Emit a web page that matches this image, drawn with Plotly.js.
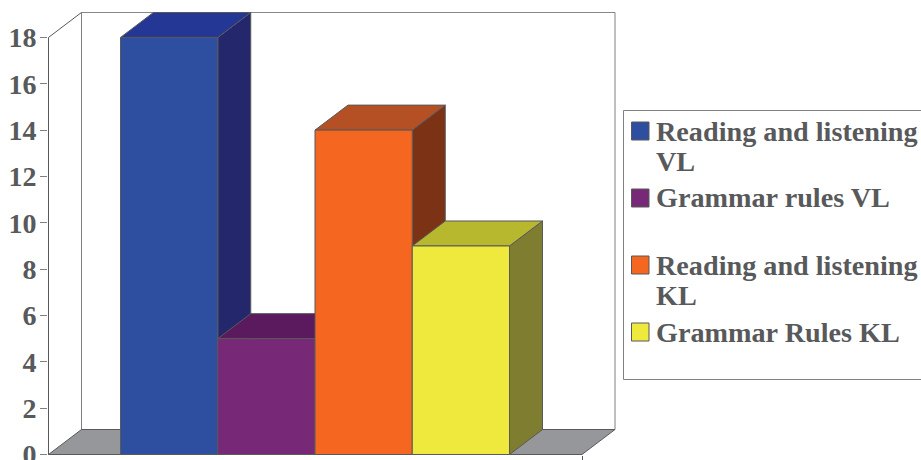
<!DOCTYPE html>
<html>
<head>
<meta charset="utf-8">
<script src="https://cdn.plot.ly/plotly-3.0.1.min.js"></script>
<style>html,body{margin:0;padding:0;background:#fff;overflow:hidden}</style>
</head>
<body>
<div id="chart" style="width:921px;height:460px"></div>
<script>
// Series, front to back in drawing order
const seriesNames = ["Reading and listening VL", "Grammar rules VL", "Reading and listening KL", "Grammar Rules KL"];
const seriesValues = [18, 5, 14, 9];
const frontColors = ["#2e4f9f", "#772877", "#f56620", "#efe93d"];
const topColors = ["#253795", "#5b1a5d", "#b55024", "#b8b82f"];
const sideColors = ["#25276d", "#3c143e", "#7c3215", "#7e7d30"];
const legendLines = [["Reading and listening", "VL"], ["Grammar rules VL"], ["Reading and listening", "KL"], ["Grammar Rules KL"]];
const yTicks = [0, 2, 4, 6, 8, 10, 12, 14, 16, 18];

// Box geometry in axis units: one x unit is one bar width
const W = 921, H = 460;
const plot = {l: 48, t: 12, w: 568, h: 443};
const xUnit = 97.25, yUnit = 23.17;
const originX = 48.5, originY = 454.5;
const depthX = 33 / xUnit, depthY = 25 / yUnit;
const firstBar = (120.5 - originX) / xUnit;
const floorWidth = (582 - originX) / xUnit;
const xRange = [(plot.l - originX) / xUnit, (plot.l + plot.w - originX) / xUnit];
const yRange = [(originY - plot.t - plot.h) / yUnit, (originY - plot.t) / yUnit];
const yTop = yTicks[yTicks.length - 1];

const edge = "#58595b", frame = "#7f8083", floorColor = "#96979b", textColor = "#58595b";

function poly(xs, ys, fill, lineColor) {
  return {
    type: "scatter", mode: "lines", x: xs, y: ys, fill: fill ? "toself" : "none",
    fillcolor: fill || undefined, line: {color: lineColor, width: 1},
    hoverinfo: "skip", showlegend: false, cliponaxis: false
  };
}

const traces = [
  // back wall and floor of the box
  poly([depthX, floorWidth + depthX, floorWidth + depthX, depthX, depthX],
       [depthY, depthY, yTop + depthY, yTop + depthY, depthY], "#ffffff", frame),
  poly([0, depthX, floorWidth + depthX, floorWidth, 0], [0, depthY, depthY, 0, 0], floorColor, edge),
  // left side of the box and the value axis
  poly([0, 0, depthX], [0, yTop, yTop + depthY], null, edge),
  poly([0, floorWidth], [0, 0], null, edge)
];

// Right faces, then top faces, so each top overlaps the neighbour on its left
seriesValues.forEach((v, i) => {
  const r = firstBar + i + 1;
  traces.push(poly([r, r + depthX, r + depthX, r, r], [0, depthY, v + depthY, v, 0], sideColors[i], edge));
});
seriesValues.forEach((v, i) => {
  const l = firstBar + i, r = l + 1;
  traces.push(poly([l, l + depthX, r + depthX, r, l], [v, v + depthY, v + depthY, v, v], topColors[i], edge));
});

// Front faces sit on an overlaid subplot so they paint over the depth faces
seriesValues.forEach((v, i) => {
  traces.push({
    type: "bar", name: seriesNames[i], x: [firstBar + i + 0.5], y: [v], width: [1],
    xaxis: "x2", yaxis: "y2",
    marker: {color: frontColors[i], line: {color: edge, width: 1}},
    showlegend: false, hovertemplate: seriesNames[i] + ": %{y}<extra></extra>"
  });
});

// Pixel positions to paper fractions for the key box
const px = x => (x - plot.l) / plot.w;
const py = y => 1 - (y - plot.t) / plot.h;

const serif = "Liberation Serif";
const shapes = [{
  type: "rect", xref: "paper", yref: "paper", x0: px(623.5), x1: px(930), y0: py(110.5), y1: py(379.5),
  fillcolor: "#ffffff", line: {color: frame, width: 1}, layer: "above"
}];
const annotations = [];
const swatchTops = [122, 189, 256, 323];
const lineCenters = [[131, 161], [197], [265, 295], [332]];
legendLines.forEach((lines, i) => {
  shapes.push({
    type: "rect", xref: "paper", yref: "paper",
    x0: px(631.5), x1: px(649), y0: py(swatchTops[i]), y1: py(swatchTops[i] + 18),
    fillcolor: frontColors[i], line: {color: edge, width: 1}, layer: "above"
  });
  lines.forEach((text, k) => {
    annotations.push({
      xref: "paper", yref: "paper", x: px(654), y: py(lineCenters[i][k]),
      xanchor: "left", yanchor: "middle", showarrow: false, text: text,
      font: {family: serif, size: 28.2, color: textColor, weight: 700}
    });
  });
});

const layout = {
  width: W, height: H, showlegend: false, barmode: "overlay",
  paper_bgcolor: "#ffffff", plot_bgcolor: "rgba(0,0,0,0)",
  margin: {l: plot.l, r: W - plot.l - plot.w, t: plot.t, b: H - plot.t - plot.h, pad: 0},
  xaxis: {
    range: xRange, showgrid: false, zeroline: false, showline: false, fixedrange: true,
    tickmode: "array", tickvals: [floorWidth], ticktext: [""], ticks: "outside", ticklen: 6, tickcolor: edge
  },
  yaxis: {
    range: yRange, showgrid: false, zeroline: false, showline: false, fixedrange: true,
    tickmode: "array", tickvals: yTicks, ticks: "outside", ticklen: 7, tickcolor: frame, tickwidth: 1,
    ticklabeloverflow: "allow", ticklabelstandoff: -2,
    tickfont: {family: serif, size: 28, color: textColor, weight: 700}
  },
  xaxis2: {overlaying: "x", range: xRange, visible: false, fixedrange: true},
  yaxis2: {overlaying: "y", range: yRange, visible: false, fixedrange: true},
  shapes: shapes,
  annotations: annotations
};

Plotly.newPlot("chart", traces, layout, {displayModeBar: false, staticPlot: true});
</script>
</body>
</html>
